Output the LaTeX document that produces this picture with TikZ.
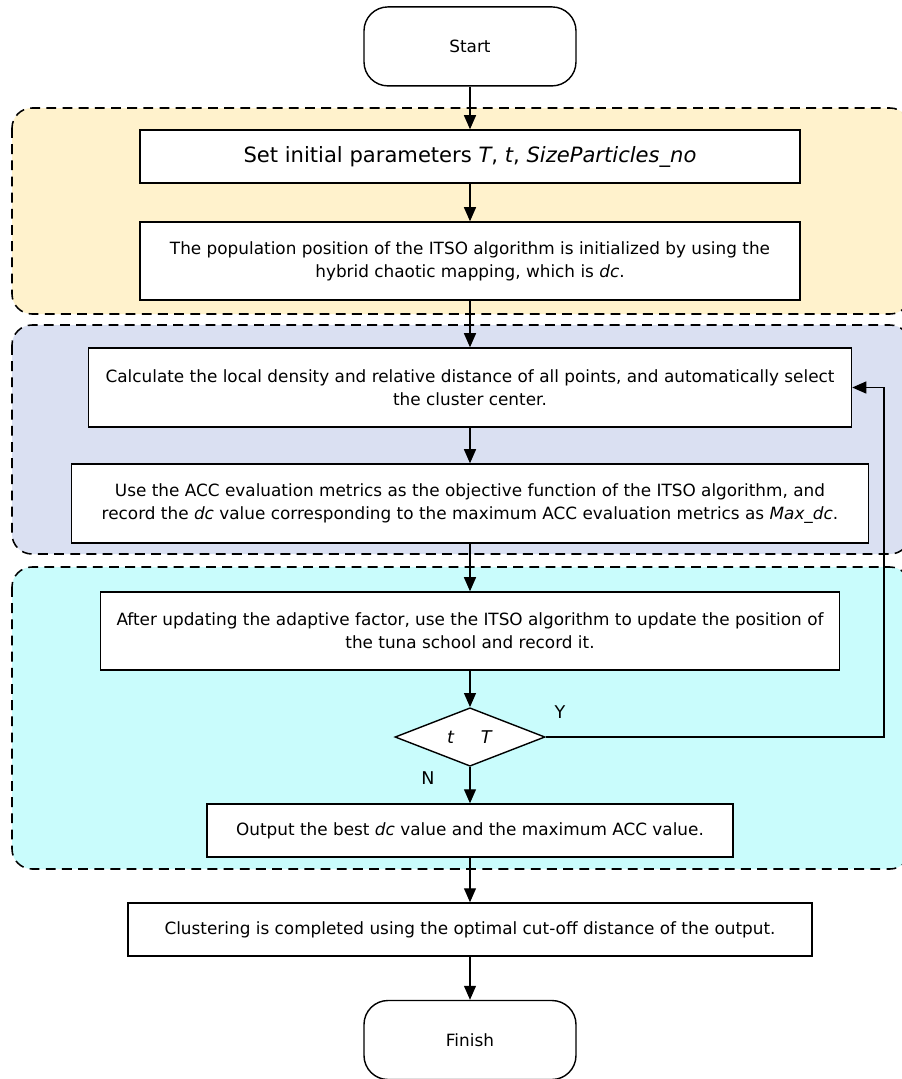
\documentclass[tikz,border=0pt]{standalone}
\usepackage{fontspec}
\setmainfont{DejaVu Sans}
\usetikzlibrary{arrows.meta, shapes.geometric}

\begin{document}
\begin{tikzpicture}[y=-1cm,
    procBox/.style={draw, line width=1pt, fill=white, align=center, inner sep=2pt, font=\fontsize{12}{16.5}\selectfont},
    termBox/.style={draw, line width=1pt, fill=white, rounded corners=0.6cm, minimum width=5.3cm, minimum height=1.975cm, font=\fontsize{12}{14}\selectfont},
    stageArea/.style={line width=1.1pt, rounded corners=0.5cm, dash pattern=on 7pt off 4.5pt},
    flowArrow/.style={-{Triangle[length=10pt,width=8.5pt]}, line width=1pt},
    tagText/.style={font=\fontsize{12.5}{14}\selectfont}]
    \definecolor{stageYellow}{HTML}{FFF2CC}
    \definecolor{stageBlue}{HTML}{DAE0F2}
    \definecolor{stageCyan}{HTML}{C9FCFC}

    % Page frame
    \useasboundingbox (0,0) rectangle (22.55,26.975);
    \clip (0,0) rectangle (22.55,26.975);

    % Draw stage areas
    \draw[stageArea, fill=stageYellow] (0.3,2.7) rectangle (22.75,7.85);
    \draw[stageArea, fill=stageBlue] (0.3,8.125) rectangle (22.75,13.85);
    \draw[stageArea, fill=stageCyan] (0.3,14.175) rectangle (22.75,21.725);

    % Draw terminals
    \node[termBox] (start) at (11.75,1.16) {Start};
    \node[termBox] (finish) at (11.75,26.0) {Finish};

    % Draw process boxes
    \node[procBox, minimum width=16.5cm, minimum height=1.325cm, font=\fontsize{15}{18}\selectfont] (init) at (11.75,3.9125)
        {Set initial parameters \textit{T}, \textit{t}, \textit{SizeParticles\_no}};
    \node[procBox, minimum width=16.5cm, minimum height=1.95cm] (chaos) at (11.75,6.525)
        {The population position of the ITSO algorithm is initialized by using the\\hybrid chaotic mapping, which is \textit{dc}.};
    \node[procBox, minimum width=19.075cm, minimum height=1.975cm] (calc) at (11.75,9.6875)
        {Calculate the local density and relative distance of all points, and automatically select\\the cluster center.};
    \node[procBox, minimum width=19.925cm, minimum height=1.975cm] (acc) at (11.75,12.5875)
        {Use the ACC evaluation metrics as the objective function of the ITSO algorithm, and\\record the \textit{dc} value corresponding to the maximum ACC evaluation metrics as \textit{Max\_dc}.};
    \node[procBox, minimum width=18.475cm, minimum height=1.95cm] (update) at (11.75,15.775)
        {After updating the adaptive factor, use the ITSO algorithm to update the position of\\the tuna school and record it.};
    \node[draw, diamond, line width=1pt, fill=white, inner sep=0pt, minimum width=3.75cm, minimum height=1.45cm, tagText] (check) at (11.75,18.425)
        {\textit{t}\hspace{1.5em}\textit{T}};
    \node[procBox, minimum width=13.15cm, minimum height=1.325cm] (output) at (11.75,20.7625)
        {Output the best \textit{dc} value and the maximum ACC value.};
    \node[procBox, minimum width=17.1cm, minimum height=1.325cm] (cluster) at (11.75,23.2375)
        {Clustering is completed using the optimal cut-off distance of the output.};

    % Branch labels
    \node[tagText] (yesTag) at (14.0,17.8) {Y};
    \node[tagText] (noTag) at (10.7,19.45) {N};

    % Draw connectors
    \draw[flowArrow] (start) -- (init);
    \draw[flowArrow] (init) -- (chaos);
    \draw[flowArrow] (chaos) -- (calc);
    \draw[flowArrow] (calc) -- (acc);
    \draw[flowArrow] (acc) -- (update);
    \draw[flowArrow] (update) -- (check);
    \draw[flowArrow] (check) -- (output);
    \draw[flowArrow] (output) -- (cluster);
    \draw[flowArrow] (cluster) -- (finish);

    % Loop back on Y
    \coordinate (loopCorner) at (22.1,18.425);
    \draw[flowArrow] (check.east) -- (loopCorner) |- (calc.east);

\end{tikzpicture}
\end{document}
